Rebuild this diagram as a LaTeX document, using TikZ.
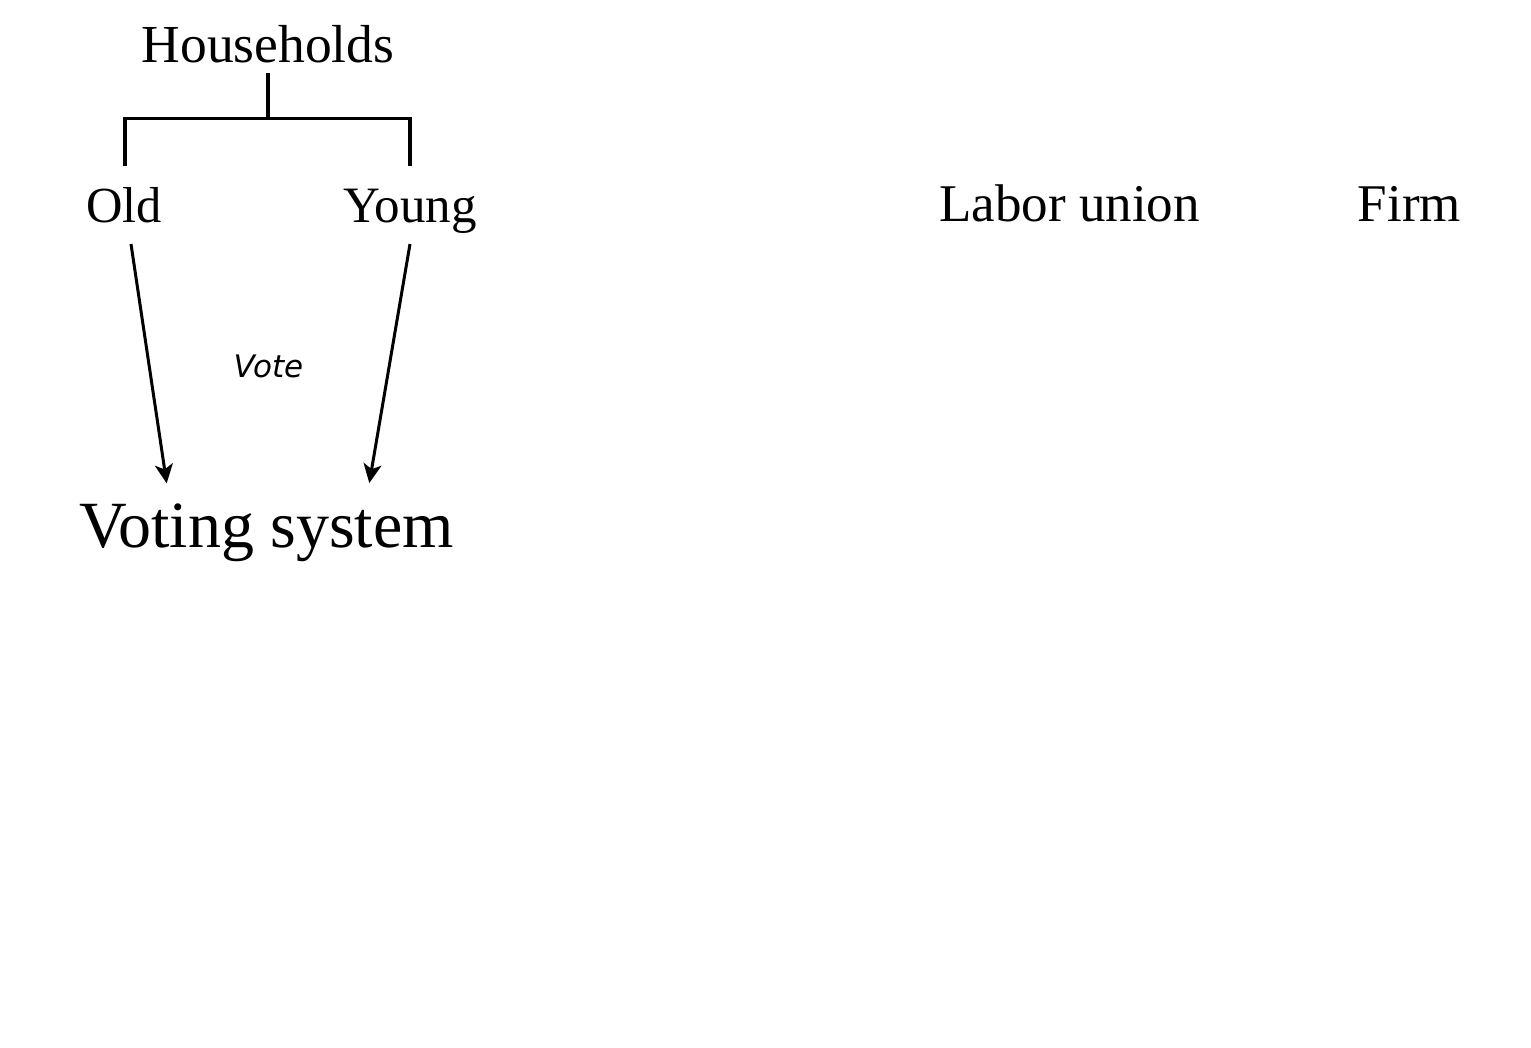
\documentclass[tikz,border=0pt]{standalone}
\usepackage{fontspec}
\setmainfont{Liberation Serif}
\newfontfamily\vsans{DejaVu Sans}
\usetikzlibrary{calc,arrows.meta}
\begin{document}
\begin{tikzpicture}[x=1pt,y=-1pt,
  lbl/.style={inner sep=0pt,anchor=base},
  bracketline/.style={line width=3.2pt,line cap=rect},
  arr/.style={line width=3pt,-{Stealth[length=19pt,width=18pt,inset=5pt]}}]
\fill[white] (0,0) rectangle (1531,1047);
\useasboundingbox (0,0) rectangle (1531,1047);
\node[lbl,font=\fontsize{53.5}{60}\selectfont] (hh) at (268,62) {Households};
\node[lbl,font=\fontsize{50.5}{60}\selectfont] (old) at (124,222) {Old};
\node[lbl,font=\fontsize{51}{60}\selectfont] (young) at (410,222) {Young};
\node[lbl,font=\fontsize{66}{75}\selectfont] (vs) at (266.5,547) {Voting system};
\node[lbl,font=\fontsize{53}{60}\selectfont] (lu) at (1069.5,221) {Labor union};
\node[lbl,font=\fontsize{53}{60}\selectfont] (firm) at (1409.5,221) {Firm};
\node[lbl,font=\vsans\itshape\fontsize{31}{36}\selectfont] (vote) at (268.5,377) {Vote};
\coordinate (j) at (268,118.5);
\draw[bracketline] ($(hh.base)+(0,13)$) -- (j);
\draw[bracketline] ($(old.base)+(1,-58)$) |- (j) -| ($(young.base)+(0,-58)$);
\draw[arr] ($(old.base)+(7,22)$) -- ($(vs.base)+(-99.8,-63.7)$);
\draw[arr] ($(young.base)+(0,22)$) -- ($(vs.base)+(102.8,-64)$);
\end{tikzpicture}
\end{document}
